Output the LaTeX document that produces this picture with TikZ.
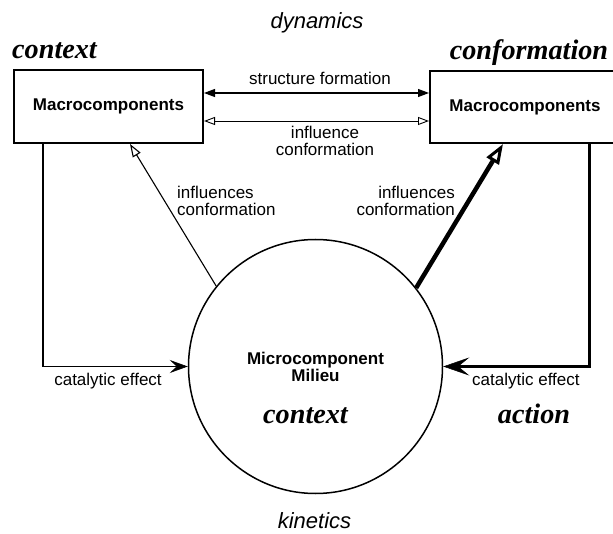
\documentclass[tikz,border=0pt]{standalone}
\usepackage{fontspec}
\setmainfont{Liberation Sans}
\newfontfamily\tmsfam{Liberation Serif}
\usetikzlibrary{arrows.meta,calc}
\begin{document}
\begin{tikzpicture}[x=1pt,y=-1pt,
  lab/.style={font=\fontsize{17}{17.5}\selectfont,inner sep=0pt},
  ital/.style={font=\itshape\fontsize{22}{22}\selectfont,inner sep=0pt},
  big/.style={font=\tmsfam\bfseries\itshape\fontsize{28.2}{28}\selectfont,inner sep=0pt},
  macbox/.style={draw,line width=2pt,font=\bfseries\fontsize{17}{17}\selectfont,inner sep=0pt},
  hair/.style={line width=1.1pt},
  ]
\useasboundingbox (0,0) rectangle (613,534);
% titles
\node[ital,anchor=base] (dyn) at (317,29) {dynamics};
\node[big,anchor=base] (ctxL) at (54.5,59) {context};
\node[big,anchor=base] (confR) at (529,60) {conformation};
% boxes
\node[macbox,minimum width=189pt,minimum height=73pt] (boxL) at (108.5,106.5) {Macrocomponents};
\node[macbox,minimum width=190pt,minimum height=72pt] (boxR) at (525,107) {Macrocomponents};
% labels
\node[lab,anchor=base] (sf) at (320,85) {structure formation};
\node[lab,anchor=north,align=center] (ic) at (325,125.6) {influence\\conformation};
\node[lab,anchor=north west,align=left] (icL) at (177,185.6) {influences\\conformation};
\node[lab,anchor=north east,align=right] (icR) at (455,185.6) {influences\\conformation};
% circle
\node[draw,circle,line width=1.5pt,minimum size=254pt,inner sep=0pt,align=center,
      font=\bfseries\fontsize{17}{17}\selectfont] (circ) at (315.5,366.5) {Microcomponent\\Milieu};
\node[big,anchor=base] (ctxC) at (305.5,424) {context};
\node[big,anchor=base] (act) at (534,423) {action};
\node[ital,anchor=base] (kin) at (314.5,528) {kinetics};
\node[lab,anchor=base] (catL) at (108,386) {catalytic effect};
\node[lab,anchor=base west] (catR) at (472,386) {catalytic effect};
% helper coordinates
\coordinate (ya) at (300,93);
\coordinate (yb) at (300,121);
\coordinate (cl) at (43,366.5);
\coordinate (cr) at (589,366.5);
\coordinate (tl) at (130,143);
\coordinate (tr) at (503,143);
% connectors between boxes
\draw[hair,{Triangle[length=11pt,width=8pt]}-{Triangle[length=11pt,width=8pt]}]
  (boxL.east |- ya) -- (boxR.west |- ya);
\draw[line width=0.9pt,{Triangle[open,length=11pt,width=8pt]}-{Triangle[open,length=11pt,width=8pt]}]
  (boxL.east |- yb) -- (boxR.west |- yb);
% catalytic effects
\draw[hair,-{Stealth[length=18pt,width=13pt,inset=7pt,line width=0.5pt]}]
  (boxL.south -| cl) -- (cl) -- (circ.west);
\draw[line width=3pt,-{Stealth[length=26pt,width=18pt,inset=11pt,line width=0.5pt]}]
  (boxR.south -| cr) -- (cr) -- (circ.east);
% influences conformation
\draw[hair,-{Triangle[open,length=13pt,width=9pt]}] (circ.141.4) -- (boxL.south -| tl);
\draw[line width=4.5pt,-{Triangle[open,length=20pt,width=14pt,line width=3pt]}] (circ.38.3) -- (boxR.south -| tr);
\end{tikzpicture}
\end{document}
